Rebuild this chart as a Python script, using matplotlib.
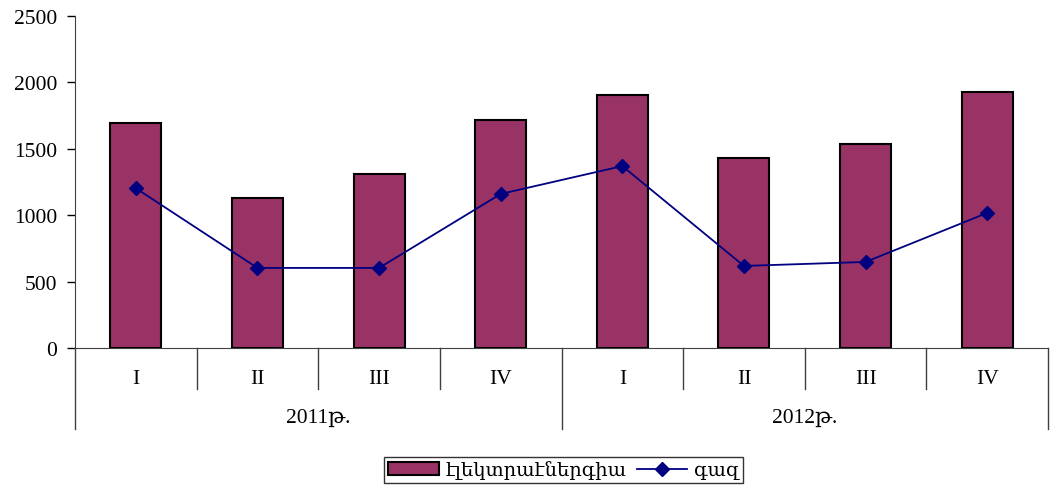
import matplotlib
matplotlib.use("Agg")
import matplotlib.pyplot as plt
import matplotlib.transforms as mtransforms

quarters = ["I", "II", "III", "IV", "I", "II", "III", "IV"]
years = ["2011թ.", "2012թ."]
electricity = [1695, 1130, 1310, 1718, 1905, 1430, 1537, 1927]
gas = [1203, 603, 603, 1160, 1370, 618, 648, 1017]
series_names = ["էլեկտրաէներգիա", "գազ"]

plt.rcParams['font.family'] = ['Liberation Serif', 'DejaVu Serif']
plt.rcParams['font.size'] = 15.5

fig = plt.figure(figsize=(10.5, 4.89), dpi=100)
ax = fig.add_axes([75/1050, 140/489, 973/1050, 332/489])

x = list(range(len(quarters)))
bars = ax.bar(x, electricity, width=0.42, color="#993366", edgecolor="black",
              linewidth=1.5, label=series_names[0], zorder=2)
line, = ax.plot(x, gas, color="#000080", marker="D", markersize=7, linewidth=1.3,
                label=series_names[1], zorder=3)

ax.set_xlim(-0.5, len(quarters) - 0.5)
ax.set_ylim(0, 2500)
ax.set_yticks([0, 500, 1000, 1500, 2000, 2500])
ax.tick_params(axis='y', direction='out', length=6, width=1, pad=7, colors='black')
ax.set_xticks([])
for s in ['top', 'right']:
    ax.spines[s].set_visible(False)
ax.spines['left'].set_color('#404040')
ax.spines['bottom'].set_color('#404040')

trans = mtransforms.blended_transform_factory(ax.transData, ax.transAxes)
for b in [0.5, 1.5, 2.5, 4.5, 5.5, 6.5]:
    ax.plot([b, b], [0, -0.123], transform=trans, color='#404040', lw=1, clip_on=False)
for b in [-0.5, 3.5, 7.5]:
    ax.plot([b, b], [0, -0.244], transform=trans, color='#404040', lw=1, clip_on=False)
for xi, q in zip(x, quarters):
    ax.text(xi, -0.093, q, transform=trans, ha='center', va='center')
for i, yname in enumerate(years):
    ax.text(4 * i + 1.5, -0.208, yname, transform=trans, ha='center', va='center')

leg = fig.legend([bars, line], series_names, loc='center',
                 bbox_to_anchor=(0.537, 0.037), ncol=2,
                 frameon=True, fancybox=False, edgecolor='black',
                 borderpad=0.2, handlelength=2.6, handleheight=0.6,
                 columnspacing=0.5, handletextpad=0.35, fontsize=14)
leg.get_frame().set_linewidth(1)

fig.savefig("out.png", dpi=100)
